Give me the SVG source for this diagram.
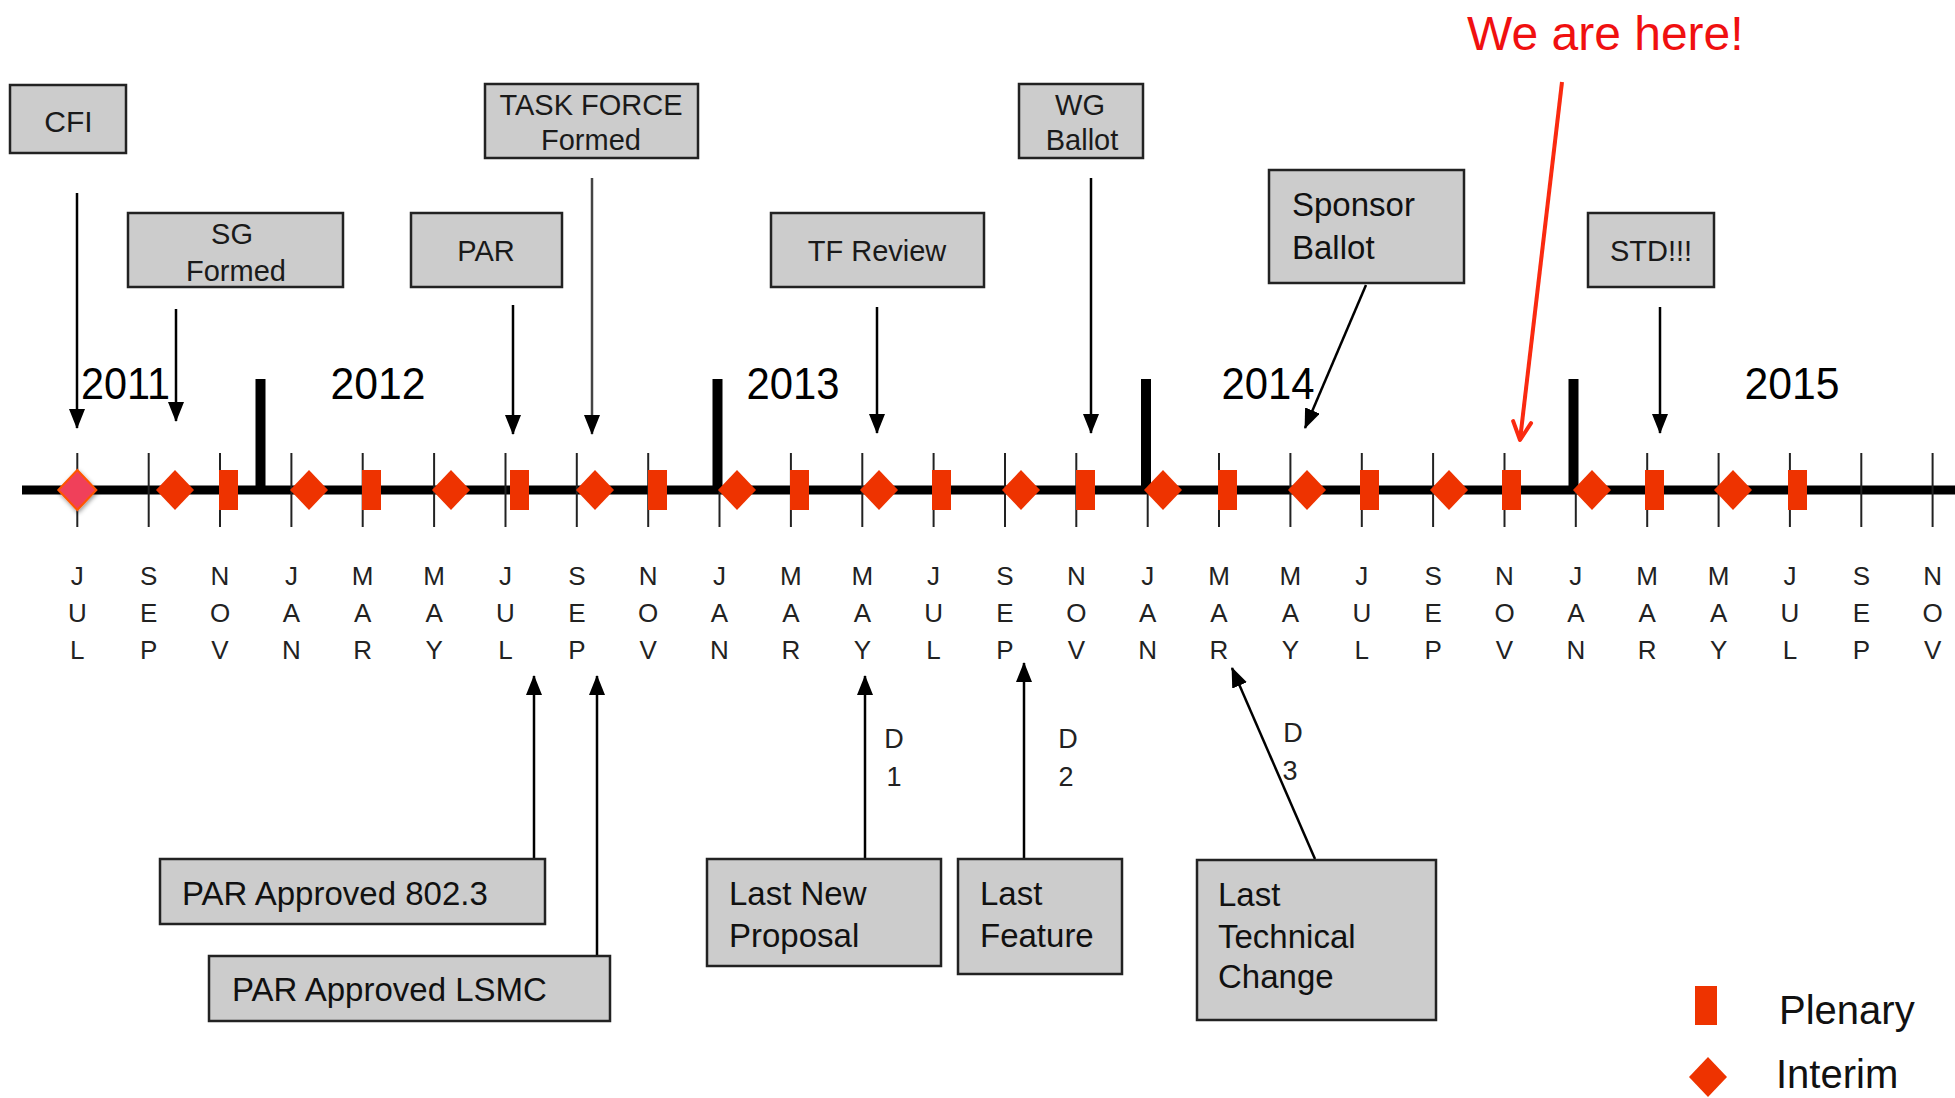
<svg xmlns="http://www.w3.org/2000/svg" width="1955" height="1098" viewBox="0 0 1955 1098">
<style>
.box{fill:#cccccc;stroke:#222;stroke-width:2.5}
.bt{font-family:"Liberation Sans",Arial,sans-serif;font-size:29px;fill:#1a1a1a;text-anchor:middle}
.bl{font-family:"Liberation Sans",Arial,sans-serif;font-size:33px;fill:#111}
.yr{font-family:"Liberation Sans",Arial,sans-serif;font-size:44px;fill:#000;text-anchor:middle}
.mo{font-family:"Liberation Sans",Arial,sans-serif;font-size:26px;fill:#222;text-anchor:middle}
.dl{font-family:"Liberation Sans",Arial,sans-serif;font-size:27px;fill:#222;text-anchor:middle}
.lg{font-family:"Liberation Sans",Arial,sans-serif;font-size:40px;fill:#111}
.tick{stroke:#222;stroke-width:2}
.yb{stroke:#000;stroke-width:10}
.pl{fill:#ee3300}
.ar{stroke:#000;stroke-width:2.5;fill:none;marker-end:url(#ah)}
</style>
<defs>
<marker id="ah" viewBox="0 0 20 16" refX="19" refY="8" markerWidth="20" markerHeight="16" markerUnits="userSpaceOnUse" orient="auto"><path d="M0,0 L20,8 L0,16 z" fill="#000"/></marker>
<marker id="rh" viewBox="0 0 24 24" refX="21" refY="12" markerWidth="24" markerHeight="24" markerUnits="userSpaceOnUse" orient="auto"><path d="M3,3 L21,12 L3,21" fill="none" stroke="#fa2a10" stroke-width="4" stroke-linecap="round" stroke-linejoin="round"/></marker>
<polygon id="dm" points="0,-20 19,0 0,20 -19,0"/>
<filter id="sh" x="-50%" y="-50%" width="200%" height="200%"><feDropShadow dx="1" dy="2" stdDeviation="2" flood-color="#000" flood-opacity="0.4"/></filter>
</defs>
<rect width="1955" height="1098" fill="#fff"/>

<g id="timeline">
<line x1="22" y1="490" x2="1955" y2="490" stroke="#000" stroke-width="9"/>
<g class="tick">
<line x1="77.3" y1="453" x2="77.3" y2="527"/>
<line x1="148.7" y1="453" x2="148.7" y2="527"/>
<line x1="220" y1="453" x2="220" y2="527"/>
<line x1="291.4" y1="453" x2="291.4" y2="527"/>
<line x1="362.7" y1="453" x2="362.7" y2="527"/>
<line x1="434.1" y1="453" x2="434.1" y2="527"/>
<line x1="505.5" y1="453" x2="505.5" y2="527"/>
<line x1="576.8" y1="453" x2="576.8" y2="527"/>
<line x1="648.2" y1="453" x2="648.2" y2="527"/>
<line x1="719.5" y1="453" x2="719.5" y2="527"/>
<line x1="790.9" y1="453" x2="790.9" y2="527"/>
<line x1="862.3" y1="453" x2="862.3" y2="527"/>
<line x1="933.6" y1="453" x2="933.6" y2="527"/>
<line x1="1005" y1="453" x2="1005" y2="527"/>
<line x1="1076.3" y1="453" x2="1076.3" y2="527"/>
<line x1="1147.7" y1="453" x2="1147.7" y2="527"/>
<line x1="1219" y1="453" x2="1219" y2="527"/>
<line x1="1290.4" y1="453" x2="1290.4" y2="527"/>
<line x1="1361.8" y1="453" x2="1361.8" y2="527"/>
<line x1="1433.1" y1="453" x2="1433.1" y2="527"/>
<line x1="1504.5" y1="453" x2="1504.5" y2="527"/>
<line x1="1575.8" y1="453" x2="1575.8" y2="527"/>
<line x1="1647.2" y1="453" x2="1647.2" y2="527"/>
<line x1="1718.6" y1="453" x2="1718.6" y2="527"/>
<line x1="1789.9" y1="453" x2="1789.9" y2="527"/>
<line x1="1861.3" y1="453" x2="1861.3" y2="527"/>
<line x1="1932.6" y1="453" x2="1932.6" y2="527"/>
</g>
<g class="yb">
<line x1="260.5" y1="379" x2="260.5" y2="490"/>
<line x1="717.5" y1="379" x2="717.5" y2="490"/>
<line x1="1146" y1="379" x2="1146" y2="490"/>
<line x1="1573.5" y1="379" x2="1573.5" y2="490"/>
</g>
<g class="pl">
<use href="#dm" x="77.3" y="490" fill="#f0405a" stroke="#ff5500" stroke-width="2" filter="url(#sh)"/>
<use href="#dm" x="175" y="490"/>
<rect x="219" y="470" width="19" height="40"/>
<use href="#dm" x="309" y="490"/>
<rect x="362" y="470" width="19" height="40"/>
<use href="#dm" x="451" y="490"/>
<rect x="510" y="470" width="19" height="40"/>
<use href="#dm" x="595" y="490"/>
<rect x="648" y="470" width="19" height="40"/>
<use href="#dm" x="737" y="490"/>
<rect x="790" y="470" width="19" height="40"/>
<use href="#dm" x="879" y="490"/>
<rect x="932" y="470" width="19" height="40"/>
<use href="#dm" x="1021" y="490"/>
<rect x="1076" y="470" width="19" height="40"/>
<use href="#dm" x="1163" y="490"/>
<rect x="1218" y="470" width="19" height="40"/>
<use href="#dm" x="1307" y="490"/>
<rect x="1360" y="470" width="19" height="40"/>
<use href="#dm" x="1449" y="490"/>
<rect x="1502" y="470" width="19" height="40"/>
<use href="#dm" x="1592" y="490"/>
<rect x="1645" y="470" width="19" height="40"/>
<use href="#dm" x="1733" y="490"/>
<rect x="1788" y="470" width="19" height="40"/>
</g>
</g>

<g id="months" class="mo">
<text x="77.3" y="585">J</text><text x="77.3" y="622">U</text><text x="77.3" y="659">L</text>
<text x="148.7" y="585">S</text><text x="148.7" y="622">E</text><text x="148.7" y="659">P</text>
<text x="220" y="585">N</text><text x="220" y="622">O</text><text x="220" y="659">V</text>
<text x="291.4" y="585">J</text><text x="291.4" y="622">A</text><text x="291.4" y="659">N</text>
<text x="362.7" y="585">M</text><text x="362.7" y="622">A</text><text x="362.7" y="659">R</text>
<text x="434.1" y="585">M</text><text x="434.1" y="622">A</text><text x="434.1" y="659">Y</text>
<text x="505.5" y="585">J</text><text x="505.5" y="622">U</text><text x="505.5" y="659">L</text>
<text x="576.8" y="585">S</text><text x="576.8" y="622">E</text><text x="576.8" y="659">P</text>
<text x="648.2" y="585">N</text><text x="648.2" y="622">O</text><text x="648.2" y="659">V</text>
<text x="719.5" y="585">J</text><text x="719.5" y="622">A</text><text x="719.5" y="659">N</text>
<text x="790.9" y="585">M</text><text x="790.9" y="622">A</text><text x="790.9" y="659">R</text>
<text x="862.3" y="585">M</text><text x="862.3" y="622">A</text><text x="862.3" y="659">Y</text>
<text x="933.6" y="585">J</text><text x="933.6" y="622">U</text><text x="933.6" y="659">L</text>
<text x="1005" y="585">S</text><text x="1005" y="622">E</text><text x="1005" y="659">P</text>
<text x="1076.3" y="585">N</text><text x="1076.3" y="622">O</text><text x="1076.3" y="659">V</text>
<text x="1147.7" y="585">J</text><text x="1147.7" y="622">A</text><text x="1147.7" y="659">N</text>
<text x="1219" y="585">M</text><text x="1219" y="622">A</text><text x="1219" y="659">R</text>
<text x="1290.4" y="585">M</text><text x="1290.4" y="622">A</text><text x="1290.4" y="659">Y</text>
<text x="1361.8" y="585">J</text><text x="1361.8" y="622">U</text><text x="1361.8" y="659">L</text>
<text x="1433.1" y="585">S</text><text x="1433.1" y="622">E</text><text x="1433.1" y="659">P</text>
<text x="1504.5" y="585">N</text><text x="1504.5" y="622">O</text><text x="1504.5" y="659">V</text>
<text x="1575.8" y="585">J</text><text x="1575.8" y="622">A</text><text x="1575.8" y="659">N</text>
<text x="1647.2" y="585">M</text><text x="1647.2" y="622">A</text><text x="1647.2" y="659">R</text>
<text x="1718.6" y="585">M</text><text x="1718.6" y="622">A</text><text x="1718.6" y="659">Y</text>
<text x="1789.9" y="585">J</text><text x="1789.9" y="622">U</text><text x="1789.9" y="659">L</text>
<text x="1861.3" y="585">S</text><text x="1861.3" y="622">E</text><text x="1861.3" y="659">P</text>
<text x="1932.6" y="585">N</text><text x="1932.6" y="622">O</text><text x="1932.6" y="659">V</text>
</g>

<g id="years" class="yr">
<text x="125.5" y="399" textLength="89" lengthAdjust="spacingAndGlyphs">2011</text>
<text x="378" y="399" textLength="95" lengthAdjust="spacingAndGlyphs">2012</text>
<text x="793" y="399" textLength="93" lengthAdjust="spacingAndGlyphs">2013</text>
<text x="1268" y="399" textLength="93" lengthAdjust="spacingAndGlyphs">2014</text>
<text x="1792" y="399" textLength="95" lengthAdjust="spacingAndGlyphs">2015</text>
</g>

<g id="connectors">
<line class="ar" x1="77" y1="193" x2="77" y2="428"/>
<line class="ar" x1="176" y1="309" x2="176" y2="421"/>
<line class="ar" x1="513" y1="305" x2="513" y2="434"/>
<line class="ar" x1="592" y1="178" x2="592" y2="434" style="stroke:#444"/>
<line class="ar" x1="877" y1="307" x2="877" y2="433"/>
<line class="ar" x1="1091" y1="178" x2="1091" y2="433"/>
<line class="ar" x1="1366" y1="285" x2="1305" y2="428"/>
<line class="ar" x1="1660" y1="307" x2="1660" y2="433"/>
<line x1="1562" y1="82" x2="1520" y2="440" stroke="#fa2a10" stroke-width="4" marker-end="url(#rh)"/>
<line class="ar" x1="534" y1="859" x2="534" y2="676"/>
<line class="ar" x1="597" y1="956" x2="597" y2="676"/>
<line class="ar" x1="865" y1="859" x2="865" y2="676"/>
<line class="ar" x1="1024" y1="859" x2="1024" y2="663"/>
<line class="ar" x1="1315" y1="859" x2="1232" y2="668"/>
</g>

<g id="d-labels" class="dl">
<text x="894" y="748">D</text><text x="894" y="786">1</text>
<text x="1068" y="748">D</text><text x="1066" y="786">2</text>
<text x="1293" y="742">D</text><text x="1290" y="780">3</text>
</g>

<g id="cfi"><rect class="box" x="10" y="85" width="116" height="68"/><text class="bt" x="68.5" y="132" style="font-size:30px">CFI</text></g>
<g id="sg-formed"><rect class="box" x="128" y="213" width="215" height="74"/><text class="bt" x="232" y="244">SG</text><text class="bt" x="236" y="281">Formed</text></g>
<g id="par"><rect class="box" x="411" y="213" width="151" height="74"/><text class="bt" x="486" y="261">PAR</text></g>
<g id="task-force"><rect class="box" x="485" y="84" width="213" height="74"/><text class="bt" x="591" y="115">TASK FORCE</text><text class="bt" x="591" y="150">Formed</text></g>
<g id="tf-review"><rect class="box" x="771" y="213" width="213" height="74"/><text class="bt" x="877" y="261">TF Review</text></g>
<g id="wg-ballot"><rect class="box" x="1019" y="84" width="124" height="74"/><text class="bt" x="1080" y="115">WG</text><text class="bt" x="1082" y="150">Ballot</text></g>
<g id="sponsor-ballot"><rect class="box" x="1269" y="170" width="195" height="113"/><text class="bl" x="1292" y="216">Sponsor</text><text class="bl" x="1292" y="259">Ballot</text></g>
<g id="std"><rect class="box" x="1588" y="213" width="126" height="74"/><text class="bt" x="1651" y="261">STD!!!</text></g>

<g id="we-are-here"><text x="1467" y="50" style="font-family:'Liberation Sans',Arial,sans-serif;font-size:48px;fill:#f01010">We are here!</text></g>

<g id="par-approved-8023"><rect class="box" x="160" y="859" width="385" height="65"/><text class="bl" x="182" y="905">PAR Approved 802.3</text></g>
<g id="par-approved-lsmc"><rect class="box" x="209" y="956" width="401" height="65"/><text class="bl" x="232" y="1001">PAR Approved LSMC</text></g>
<g id="last-new-proposal"><rect class="box" x="707" y="859" width="234" height="107"/><text class="bl" x="729" y="905">Last New</text><text class="bl" x="729" y="947">Proposal</text></g>
<g id="last-feature"><rect class="box" x="958" y="859" width="164" height="115"/><text class="bl" x="980" y="905">Last</text><text class="bl" x="980" y="947">Feature</text></g>
<g id="last-technical-change"><rect class="box" x="1197" y="860" width="239" height="160"/><text class="bl" x="1218" y="906">Last</text><text class="bl" x="1218" y="948">Technical</text><text class="bl" x="1218" y="988">Change</text></g>

<g id="legend">
<rect class="pl" x="1695" y="986" width="22" height="39"/>
<text class="lg" x="1779" y="1024">Plenary</text>
<use href="#dm" x="1708" y="1077" class="pl"/>
<text class="lg" x="1776" y="1088">Interim</text>
</g>
</svg>
